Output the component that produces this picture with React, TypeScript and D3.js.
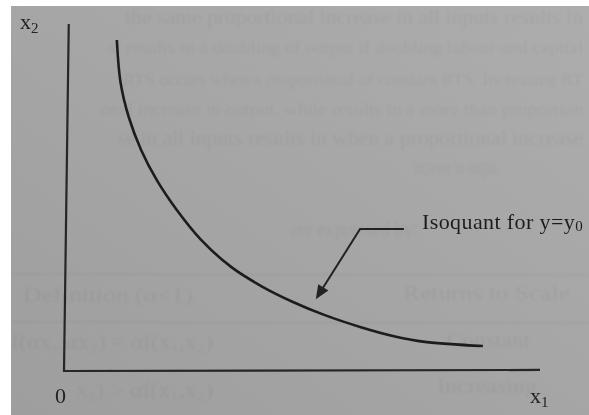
import React from "react";
import * as d3 from "d3";

// Isoquant y = y0: input combinations (x1, x2) producing the same output
const isoX1 = [1.11, 1.19, 1.36, 1.62, 1.95, 2.37, 2.88, 3.51, 4.18, 4.81, 5.48, 6.22, 6.91, 7.58, 8.8];
const isoX2 = [9.54, 8.3, 7.32, 6.37, 5.5, 4.64, 3.78, 3.0, 2.42, 1.99, 1.61, 1.27, 1.01, 0.84, 0.72];

// Axis polyline: top of x2 axis, origin, end of x1 axis
const axisX1 = [0.1, 0, 10];
const axisX2 = [10, 0, 0.03];

// Pointer from the label down to the curve (elbow, then arrow tip)
const arrowX1 = [7.14, 6.22, 5.29];
const arrowX2 = [4.09, 4.09, 2.07];

const labelText = "Isoquant for y=y";
const labelSub = "0";
const originLabel = "0";
const xAxisLabel = "x";
const xAxisSub = "1";
const yAxisLabel = "x";
const yAxisSub = "2";

// Faint print showing through from the other side of the page
const ghostLines = [
  "the same proportional increase in all inputs results in",
  "al results in a doubling of output if doubling labour and capital",
  "RTS occurs when a proportional of constant RTS. Increasing RT",
  "onal increase in output, while results in a more than proportion",
  "se in all inputs results in when a proportional increase",
  "increase in output.",
  "are expressed by:",
  "Definition (\u03b1<1)",
  "Returns to Scale",
  "f(\u03b1x\u2081,\u03b1x\u2082) = \u03b1f(x\u2081,x\u2082)",
  "Constant",
  "x\u2082) > \u03b1f(x\u2081,x\u2082)",
  "Increasing",
];

const W = 589;
const H = 415;

export default function App() {
  const x = d3.scaleLinear().domain([0, 10]).range([64, 540]);
  const y = d3.scaleLinear().domain([0, 10]).range([371, 24]);

  const isoPts: [number, number][] = isoX1.map((v, i) => [x(v), y(isoX2[i])]);
  const curve = d3.line().curve(d3.curveCatmullRom.alpha(0.5))(isoPts) || "";

  const axisPts: [number, number][] = axisX1.map((v, i) => [x(v), y(axisX2[i])]);
  const axisPath = d3.line()(axisPts) || "";

  const arrowPts: [number, number][] = arrowX1.map((v, i) => [x(v), y(arrowX2[i])]);
  const [ex, ey] = arrowPts[1];
  const [tx, ty] = arrowPts[2];
  const dx = tx - ex;
  const dy = ty - ey;
  const len = Math.hypot(dx, dy);
  const ux = dx / len;
  const uy = dy / len;
  const headLen = 14;
  const headHalf = 6;
  const bx = tx - ux * headLen;
  const by = ty - uy * headLen;
  const head = `M${tx},${ty}L${bx - uy * headHalf},${by + ux * headHalf}L${bx + uy * headHalf},${by - ux * headHalf}Z`;
  const shaftPts: [number, number][] = [arrowPts[0], arrowPts[1], [bx + ux * 2, by + uy * 2]];
  const shaft = d3.line()(shaftPts) || "";

  // layout of the show-through fragments: [x, baseline, width, font size]
  const ghostLayout: [number, number, number, number][] = [
    [125, 24, 458, 20],
    [107, 53, 476, 17],
    [123, 85, 460, 17],
    [100, 115, 483, 17],
    [117, 145, 466, 20],
    [413, 174, 87, 20],
    [290, 236, 128, 20],
    [23, 302, 170, 20],
    [403, 300, 167, 20],
    [11, 349, 202, 20],
    [447, 347, 83, 20],
    [76, 397, 137, 20],
    [437, 393, 100, 20],
  ];

  const serif = "'Liberation Serif', 'DejaVu Serif', serif";

  return (
    <div style={{ position: "fixed", left: 0, top: 0 }}>
      <svg width={W} height={H} viewBox={`0 0 ${W} ${H}`} style={{ display: "block" }}>
        <defs>
          <linearGradient id="paper" x1="0" y1="1" x2="1" y2="0">
            <stop offset="0" stopColor="#9e9e9e" />
            <stop offset="1" stopColor="#adadad" />
          </linearGradient>
          <filter id="soft" x="-5%" y="-5%" width="110%" height="110%">
            <feGaussianBlur stdDeviation="1.1" />
          </filter>
          <filter id="ink" x="-5%" y="-5%" width="110%" height="110%">
            <feGaussianBlur stdDeviation="0.35" />
          </filter>
        </defs>
        <rect x={0} y={0} width={W} height={H} fill="#ffffff" />
        <rect x={11} y={6} width={W - 11} height={H - 6} fill="url(#paper)" />

        <g filter="url(#soft)" fill="#000" fillOpacity={0.05} fontFamily={serif}>
          {ghostLines.map((t, i) => {
            const [gx, gy, gw, fs] = ghostLayout[i];
            return (
              <text key={i} x={gx} y={gy} fontSize={fs} textLength={gw} lengthAdjust="spacingAndGlyphs">
                {t}
              </text>
            );
          })}
          <line x1={11} x2={W} y1={274} y2={275} stroke="#000" strokeOpacity={0.05} strokeWidth={1.5} />
          <line x1={11} x2={W} y1={322} y2={323} stroke="#000" strokeOpacity={0.05} strokeWidth={1.5} />
        </g>

        <g filter="url(#ink)">
          <path d={axisPath} fill="none" stroke="#262626" strokeWidth={2.2} strokeLinejoin="miter" />
          <path d={curve} fill="none" stroke="#1c1c1c" strokeWidth={2.6} strokeLinecap="butt" />
          <path d={shaft} fill="none" stroke="#222" strokeWidth={2} />
          <path d={head} fill="#222" />

          <text x={422} y={229} fontFamily={serif} fontSize={22} fill="#1e1e1e" letterSpacing={0.4}>
            {labelText}
            <tspan fontSize={15} dy={2}>
              {labelSub}
            </tspan>
          </text>

          <text x={20} y={29} fontFamily={serif} fontSize={22} fill="#222">
            {yAxisLabel}
            <tspan fontSize={15} dy={4}>
              {yAxisSub}
            </tspan>
          </text>

          <text x={530} y={403} fontFamily={serif} fontSize={22} fill="#222">
            {xAxisLabel}
            <tspan fontSize={15} dy={4}>
              {xAxisSub}
            </tspan>
          </text>

          <text x={55} y={403} fontFamily={serif} fontSize={22} fill="#222">
            {originLabel}
          </text>
        </g>
      </svg>
    </div>
  );
}
